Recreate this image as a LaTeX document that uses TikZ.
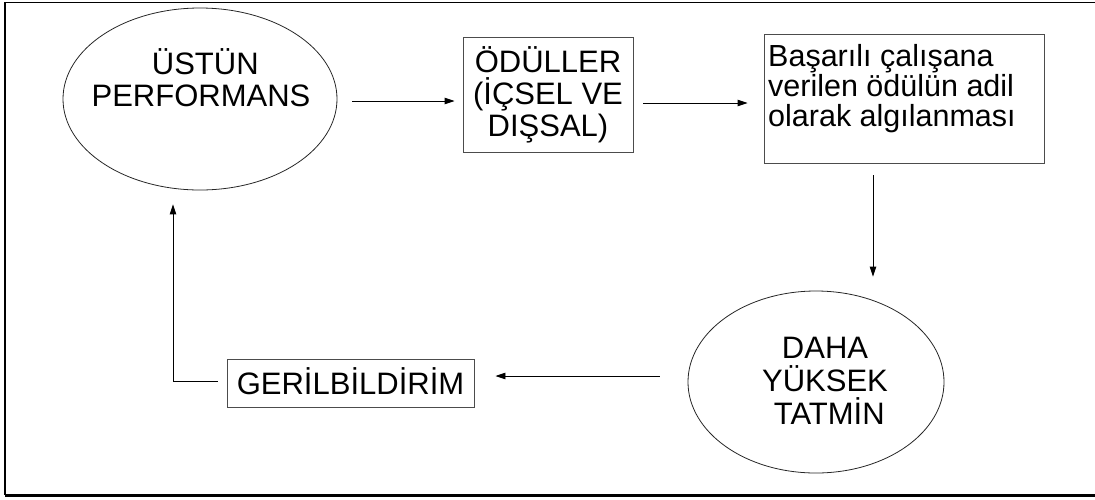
\documentclass[tikz,border=0pt]{standalone}
\usepackage{fontspec}
\setmainfont{Liberation Sans}
\usetikzlibrary{shapes.geometric,arrows.meta,calc}
% keep a fixed distance between the lines of every label
\lineskiplimit=-50pt
\lineskip=0pt
\begin{document}
\begin{tikzpicture}[x=1pt, y=-1pt,
    font={\fontsize{31}{32}\selectfont},
    oval/.style={draw=black!85, line width=0.8pt, ellipse, inner sep=0pt},
    framebox/.style={draw=black!70, line width=0.9pt, rectangle, inner sep=0pt},
    lbl/.style={align=center, inner sep=0pt},
    arr/.style={line width=0.9pt, -{Triangle[length=10pt,width=6.5pt]}}]
  \useasboundingbox (0,0) rectangle (1095,499);

  % page frame
  \draw[line width=1.3pt] (1095,2.5) -- (5,2.5) -- (5,495);
  \draw[line width=3pt] (5,495) -- (1095,495);

  % nodes
  \node[oval, minimum width=274pt, minimum height=182pt] (perf) at (200,99) {};
  \node[lbl] (perfT) at (201,78) {~ÜSTÜN\\PERFORMANS};

  \node[framebox, minimum width=170pt, minimum height=115pt, align=center]
    (odul) at (548,94.5) {ÖDÜLLER\\(İÇSEL VE\\DIŞSAL)};

  \node[framebox, minimum width=280pt, minimum height=129pt] (perc) at (904,98.5) {};
  \node[lbl, align=left, anchor=north west,
        font={\fontsize{30.5}{30}\selectfont}] (percT) at (768,44)
    {Başarılı çalışana\\verilen ödülün adil\\olarak algılanması};

  \node[oval, minimum width=256pt, minimum height=182pt] (tat) at (816,382) {};
  \node[lbl, font={\fontsize{31}{33}\selectfont}] (tatT) at (825,381)
    {DAHA\\YÜKSEK\\~TATMİN};

  \node[framebox, minimum width=247pt, minimum height=48pt,
        text height=22pt, text depth=0pt] (gb) at (350.5,383) {GERİLBİLDİRİM};

  % connector end points
  \coordinate (a1s) at ($(perf.east)+(15,2)$);
  \coordinate (a1e) at ($(odul.west)+(-8,0)$);
  \coordinate (a2s) at ($(odul.east)+(10,8.5)$);
  \coordinate (a2e) at ($(perc.west)+(-16,0)$);
  \coordinate (a3s) at ($(perc.south)+(-31,12)$);
  \coordinate (a3e) at ($(tat.north)+(0,-14)$);
  \coordinate (a4s) at ($(tat.west)+(-28,-6)$);
  \coordinate (a4e) at ($(gb.east)+(21,0)$);
  \coordinate (fbs) at ($(gb.west)+(-9,-2)$);
  \coordinate (fbe) at ($(perf.south)+(-27,14)$);

  % connectors
  \draw[arr] (a1s) -- (a1s -| a1e);
  \draw[arr] (a2s) -- (a2s -| a2e);
  \draw[arr] (a3s) -- (a3s |- a3e);
  \draw[arr] (a4s) -- (a4s -| a4e);
  \draw[arr] (fbs) -| (fbe);
\end{tikzpicture}
\end{document}
